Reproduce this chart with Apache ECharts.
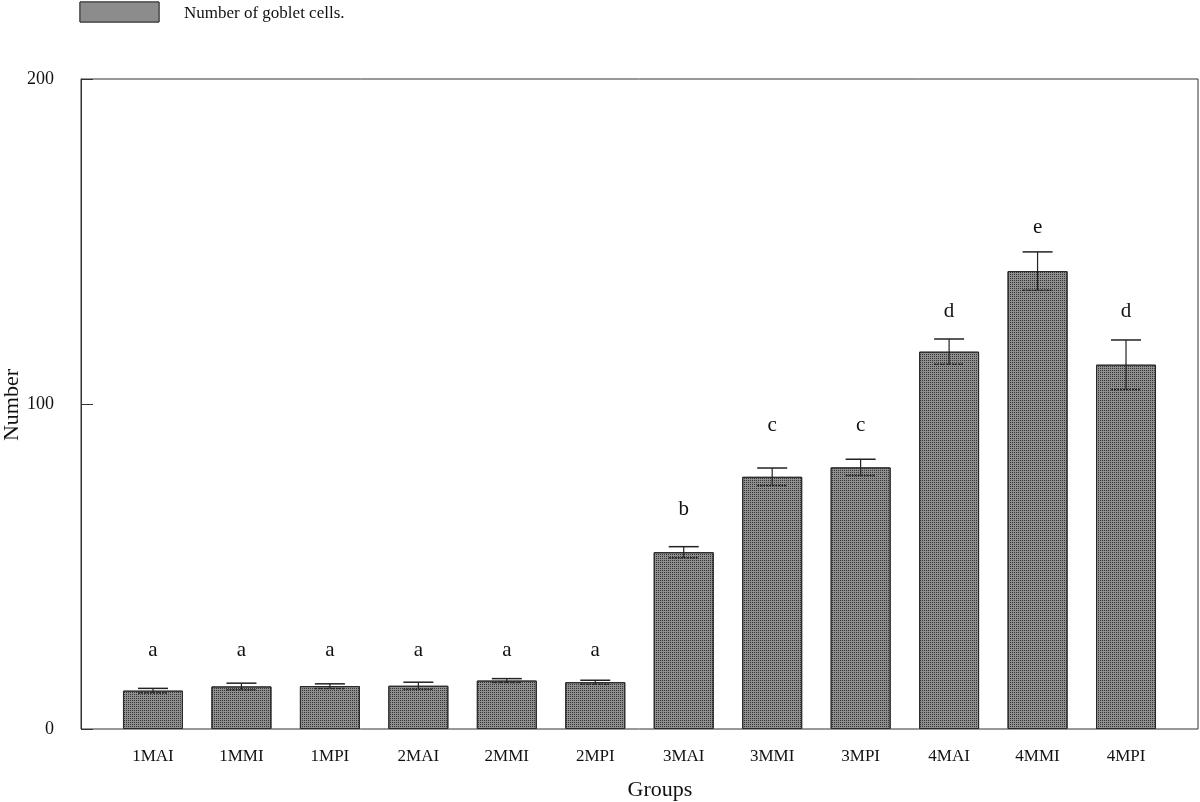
<!DOCTYPE html>
<html>
<head>
<meta charset="utf-8">
<script src="https://cdn.jsdelivr.net/npm/echarts@6/dist/echarts.min.js"></script>
<style>html,body{margin:0;padding:0;background:#fff}#c{width:1200px;height:802px}</style>
</head>
<body>
<div id="c"></div>
<script>
const categories = ['1MAI','1MMI','1MPI','2MAI','2MMI','2MPI','3MAI','3MMI','3MPI','4MAI','4MMI','4MPI'];
const means = [11.8, 13.1, 13.2, 13.3, 14.9, 14.4, 54.4, 77.6, 80.5, 116.1, 140.9, 112.1];
const errors = [0.7, 1.0, 0.7, 1.1, 0.6, 0.6, 1.7, 2.7, 2.5, 3.9, 5.9, 7.6];
const letters = ['a','a','a','a','a','a','b','c','c','d','e','d'];
const letterY = [24.3, 24.3, 24.3, 24.3, 24.3, 24.3, 67.4, 93.5, 93.5, 128.6, 154.2, 128.6];
const yTicks = [0, 100, 200];

const FONT = '"Liberation Serif", "DejaVu Serif", serif';
const chart = echarts.init(document.getElementById('c'));

const errData = categories.map((c, i) => [i, means[i], errors[i], letters[i], letterY[i]]);
const decal = {symbol: 'rect', symbolSize: 1, dashArrayX: [1, 1], dashArrayY: [1, 1], color: 'rgba(30,30,30,0.8)', rotation: 0};

chart.setOption({
  animation: false,
  backgroundColor: '#fff',
  grid: [
    {left: 108.75, right: 29.75, top: 79, bottom: 73, outerBoundsMode: 'none', containLabel: false},
    {left: 81, right: 2, top: 79, bottom: 73, outerBoundsMode: 'none', containLabel: false,
     show: true, borderColor: '#333', borderWidth: 1, backgroundColor: 'transparent'}
  ],
  xAxis: [
    {type: 'category', gridIndex: 0, data: categories,
     axisLine: {show: false}, axisTick: {show: false},
     axisLabel: {fontFamily: FONT, fontSize: 17, color: '#111', margin: 19}},
    {type: 'value', gridIndex: 1, min: 0, max: 1, show: false}
  ],
  yAxis: [
    {type: 'value', gridIndex: 0, min: 0, max: 200, show: false},
    {type: 'value', gridIndex: 1, min: 0, max: 200, interval: 100,
     axisLine: {show: true, lineStyle: {color: '#333', width: 1}},
     axisTick: {show: true, inside: true, length: 12, lineStyle: {color: '#333'}},
     splitLine: {show: false},
     axisLabel: {fontFamily: FONT, fontSize: 18, color: '#111', margin: 27,
                 formatter: v => yTicks.includes(v) ? String(v) : ''}}
  ],
  graphic: [
    {type: 'text', x: 12, y: 405, rotation: Math.PI / 2,
     style: {text: 'Number', x: 0, y: 0, align: 'center', verticalAlign: 'middle',
      font: '22px ' + FONT, fill: '#111'}},
    {type: 'text', style: {text: 'Groups', x: 660, y: 790, align: 'center', verticalAlign: 'middle',
      font: '22px ' + FONT, fill: '#111'}},
    {type: 'rect', shape: {x: 80, y: 2, width: 79, height: 20},
     style: {fill: '#8c8c8c', stroke: '#333', lineWidth: 1, decal: decal}},
    {type: 'text', style: {text: 'Number of goblet cells.', x: 184, y: 14, verticalAlign: 'middle',
      font: '17px ' + FONT, fill: '#111'}}
  ],
  series: [
    {type: 'bar', xAxisIndex: 0, yAxisIndex: 0, data: means, barWidth: 60,
     itemStyle: {color: '#8f8f8f', borderColor: '#2a2a2a', borderWidth: 1, decal: decal}},
    {type: 'custom', xAxisIndex: 0, yAxisIndex: 0, data: errData, z: 5,
     renderItem: function (params, api) {
       const x = api.value(0), m = api.value(1), e = api.value(2);
       const top = api.coord([x, m + e]);
       const bot = api.coord([x, m - e]);
       const lab = api.coord([x, api.value(4)]);
       const hw = 15;
       return {type: 'group', children: [
         {type: 'line', shape: {x1: top[0], y1: top[1], x2: bot[0], y2: bot[1]}, style: {stroke: '#222', lineWidth: 1.2}},
         {type: 'line', shape: {x1: top[0]-hw, y1: top[1], x2: top[0]+hw, y2: top[1]}, style: {stroke: '#222', lineWidth: 1.5}},
         {type: 'line', shape: {x1: bot[0]-hw, y1: bot[1], x2: bot[0]+hw, y2: bot[1]}, style: {stroke: '#222', lineWidth: 1.5, lineDash: [2, 1]}},
         {type: 'text', style: {text: letters[params.dataIndex], x: lab[0], y: lab[1], align: 'center', verticalAlign: 'middle',
           font: '21px ' + FONT, fill: '#111'}}
       ]};
     }}
  ]
});
</script>
</body>
</html>
